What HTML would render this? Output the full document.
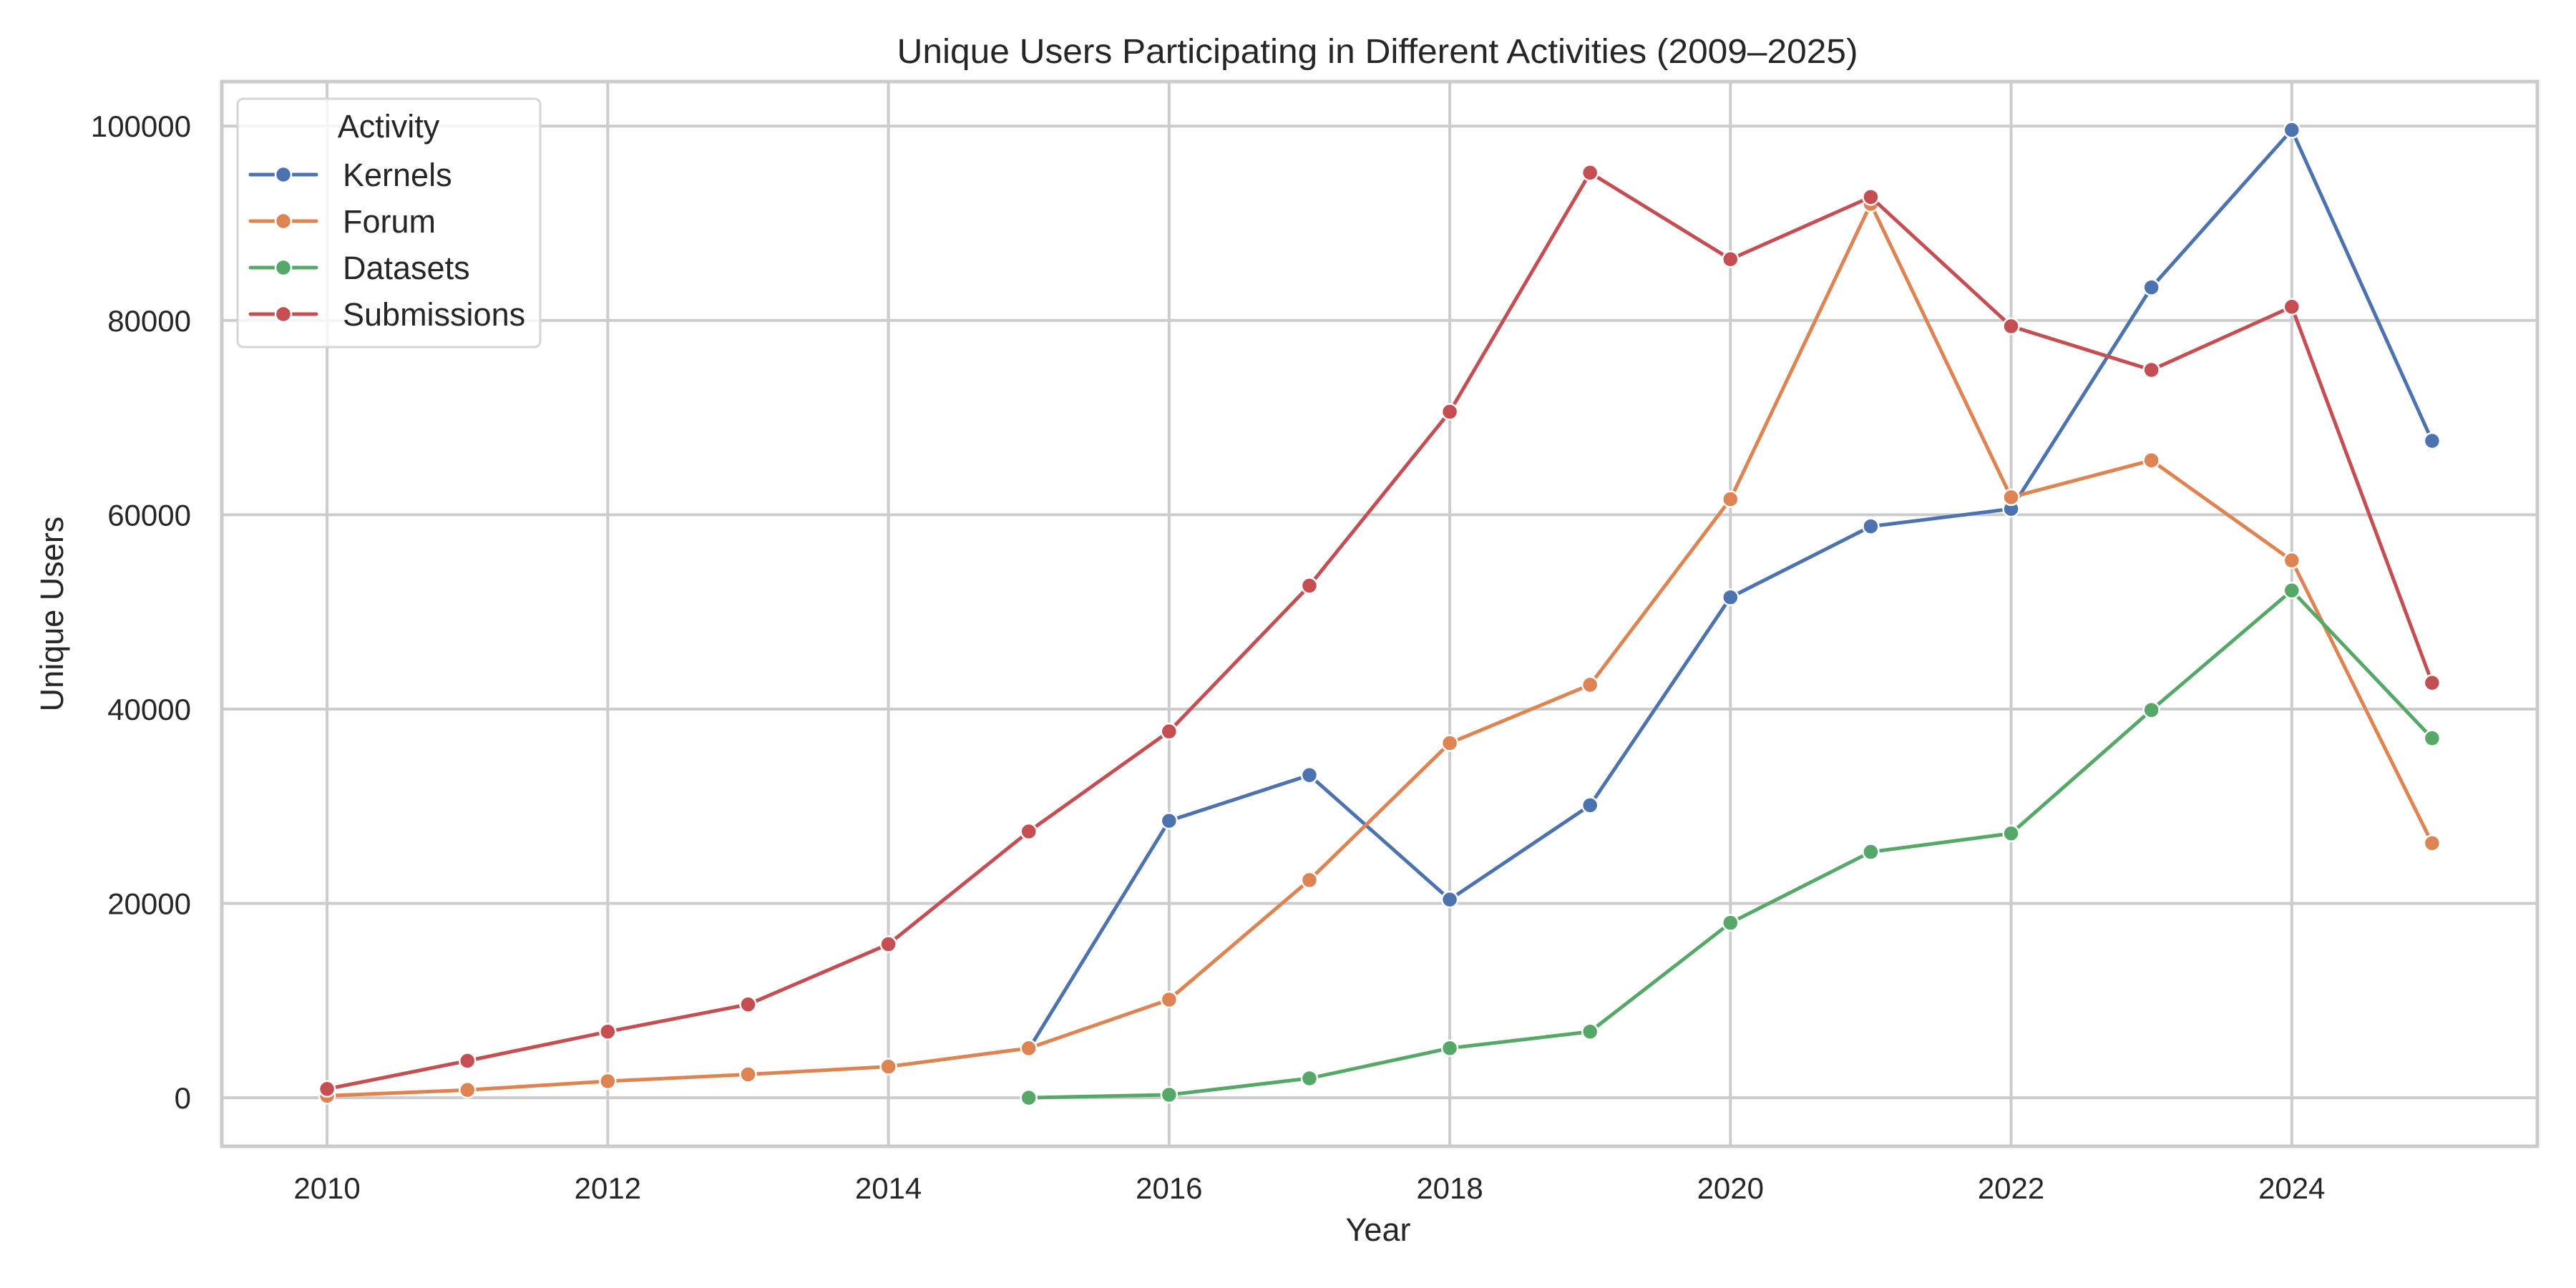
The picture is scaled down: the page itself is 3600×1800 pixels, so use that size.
<!DOCTYPE html>
<html><head><meta charset="utf-8"><style>
html,body{margin:0;padding:0;background:#fff}
svg{display:block;font-family:"Liberation Sans",Arial,sans-serif}
</style></head><body>
<svg id="chart" width="3600" height="1800" viewBox="0 0 3600 1800" xmlns="http://www.w3.org/2000/svg">
<rect width="3600" height="1800" fill="#fff"/>
<g id="grid"></g>
<g id="series"></g>
<rect x="310" y="114" width="3236" height="1488" fill="none" stroke="#cccccc" stroke-width="5"/>
<g id="ticks" fill="#262626" font-size="42"></g>
<text x="1925" y="88" text-anchor="middle" font-size="48" fill="#262626" textLength="1343" lengthAdjust="spacingAndGlyphs">Unique Users Participating in Different Activities (2009–2025)</text>
<text x="1926" y="1734" text-anchor="middle" font-size="45" fill="#262626">Year</text>
<text transform="translate(88,858) rotate(-90)" text-anchor="middle" font-size="45" fill="#262626">Unique Users</text>
<g id="legend">
<rect x="332" y="138" width="423" height="347" rx="8" fill="#fff" fill-opacity="0.8" stroke="#d6d6d6" stroke-width="3"/>
<text x="543" y="192" text-anchor="middle" font-size="45" fill="#262626">Activity</text>
</g>
</svg>
<script>
const years = [2010,2011,2012,2013,2014,2015,2016,2017,2018,2019,2020,2021,2022,2023,2024,2025];
const seriesNames = ["Kernels","Forum","Datasets","Submissions"];
const kernelsYears = [2015,2016,2017,2018,2019,2020,2021,2022,2023,2024,2025];
const kernelsValues = [5000,28500,33200,20400,30100,51500,58800,60600,83400,99600,67600];
const forumYears = [2010,2011,2012,2013,2014,2015,2016,2017,2018,2019,2020,2021,2022,2023,2024,2025];
const forumValues = [200,800,1700,2400,3200,5100,10100,22400,36500,42500,61600,92000,61800,65600,55300,26200];
const datasetsYears = [2015,2016,2017,2018,2019,2020,2021,2022,2023,2024,2025];
const datasetsValues = [0,300,2000,5100,6800,18000,25300,27200,39900,52200,37000];
const submissionsYears = [2010,2011,2012,2013,2014,2015,2016,2017,2018,2019,2020,2021,2022,2023,2024,2025];
const submissionsValues = [900,3800,6800,9600,15800,27400,37700,52700,70600,95200,86300,92700,79400,74900,81400,42700];
const xTicks = [2010,2012,2014,2016,2018,2020,2022,2024];
const yTicks = [0,20000,40000,60000,80000,100000];

const colors = ["#4c72b0","#dd8452","#55a868","#c44e52"];
const NS = "http://www.w3.org/2000/svg";
const L=310,R=3546,T=114,B=1602;
const x0=2009.25,x1=2025.75,y0=-5000,y1=104580;
function xs(v){return L+(v-x0)/(x1-x0)*(R-L);}
function ys(v){return B-(v-y0)/(y1-y0)*(B-T);}
function mk(tag,attrs,parent){const e=document.createElementNS(NS,tag);for(const k in attrs)e.setAttribute(k,attrs[k]);parent.appendChild(e);return e;}

const grid=document.getElementById('grid'), ticks=document.getElementById('ticks');
xTicks.forEach(t=>{
  const l=mk('line',{x1:xs(t),x2:xs(t),y1:T,y2:B,stroke:'#cccccc','stroke-width':4},grid);
  
  
  const tx=mk('text',{x:xs(t),y:1675,'text-anchor':'middle'},ticks);
  tx.textContent=t;
  
  
});
yTicks.forEach(t=>{
  const l=mk('line',{x1:L,x2:R,y1:ys(t),y2:ys(t),stroke:'#cccccc','stroke-width':4},grid);
  
  
  const tx=mk('text',{x:267,y:ys(t)+15,'text-anchor':'end'},ticks);
  tx.textContent=t;
  
  
});

const allX=[kernelsYears,forumYears,datasetsYears,submissionsYears];
const allY=[kernelsValues,forumValues,datasetsValues,submissionsValues];
const sg=document.getElementById('series');
allY.forEach((vals,i)=>{
  const g=mk('g',{},sg);
  
  
  const pts=vals.map((v,j)=>xs(allX[i][j])+','+ys(v)).join(' ');
  const pl=mk('polyline',{points:pts,fill:'none',stroke:colors[i],'stroke-width':5,'stroke-linejoin':'round','stroke-linecap':'round'},g);
  
  
  vals.forEach((v,j)=>{
    const c=mk('circle',{cx:xs(allX[i][j]),cy:ys(v),r:11,fill:colors[i],stroke:'#fff','stroke-width':2.5},g);
    
    
  });
});

const lg=document.getElementById('legend');
seriesNames.forEach((n,i)=>{
  const y=244+i*65;
  const g=mk('g',{},lg);
  
  
  mk('line',{x1:350,x2:442,y1:y,y2:y,stroke:colors[i],'stroke-width':5,'stroke-linecap':'round'},g);
  mk('circle',{cx:396,cy:y,r:11,fill:colors[i],stroke:'#fff','stroke-width':2.5},g);
  const t=mk('text',{x:479,y:y+16,'font-size':45,fill:'#262626'},g);
  t.textContent=n;
});
</script>
</body></html>
